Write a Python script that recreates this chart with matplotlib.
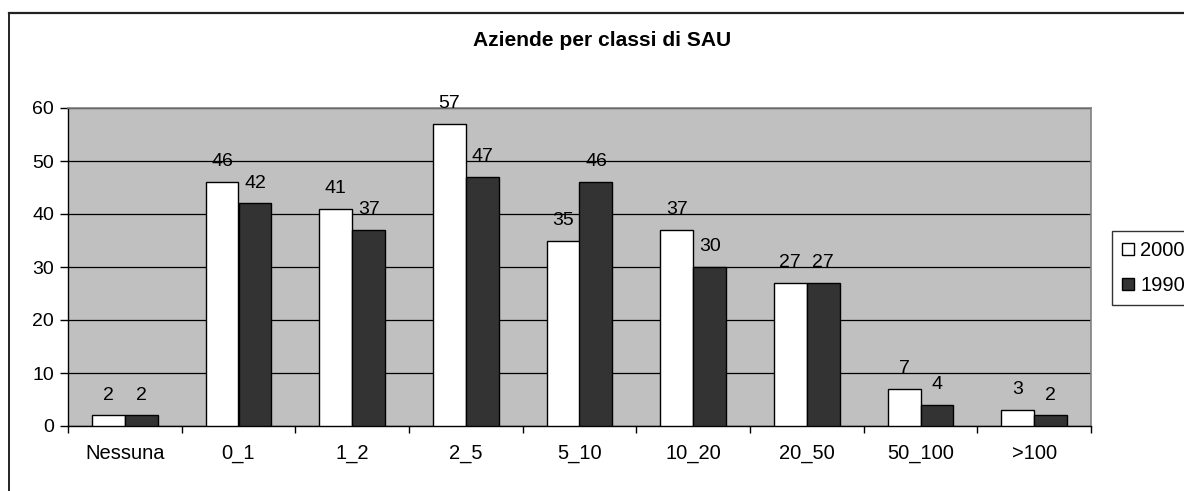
import numpy as np
import matplotlib
matplotlib.use("Agg")
import matplotlib.pyplot as plt
from matplotlib.patches import Rectangle
from matplotlib.lines import Line2D

plt.rcParams['font.family'] = ['Liberation Sans', 'DejaVu Sans']

# dati
classi = ['Nessuna', '0_1', '1_2', '2_5', '5_10', '10_20', '20_50', '50_100', '>100']
anno_2000 = [2, 46, 41, 57, 35, 37, 27, 7, 3]
anno_1990 = [2, 42, 37, 47, 46, 30, 27, 4, 2]
serie = ['2000', '1990']

W, H = 1184, 491
fig = plt.figure(figsize=(W / 100, H / 100), dpi=100)

# cornice esterna (solo lati sinistro e superiore visibili)
fig.add_artist(Line2D([8.5 / W, 8.5 / W], [0, 1 - 13 / H], color='black', lw=1.2))
fig.add_artist(Line2D([8.5 / W, 1], [1 - 13 / H, 1 - 13 / H], color='#222222', lw=1.6))

left, right, top, bottom = 68, 1091, 108, 426
ax = fig.add_axes([left / W, 1 - bottom / H, (right - left) / W, (bottom - top) / H])
ax.set_facecolor('#c0c0c0')

x = np.arange(len(classi))
bw = 0.29
b1 = ax.bar(x - bw / 2, anno_2000, bw, color='white', edgecolor='black', linewidth=1, zorder=3)
b2 = ax.bar(x + bw / 2, anno_1990, bw, color='#333333', edgecolor='black', linewidth=1, zorder=3)

for bars, vals in ((b1, anno_2000), (b2, anno_1990)):
    for r, v in zip(bars, vals):
        ax.annotate(str(v), (r.get_x() + r.get_width() / 2, v), xytext=(0, 8.5),
                    textcoords='offset points', ha='center', va='bottom',
                    fontsize=14, zorder=4)

ax.set_xlim(-0.5, len(classi) - 0.5)
ax.set_ylim(0, 60)
ax.set_yticks(range(0, 61, 10))
ax.yaxis.grid(True, color='black', lw=0.9, zorder=1)
ax.set_axisbelow(True)

ax.set_xticks(np.arange(-0.5, len(classi), 1))
ax.set_xticklabels([])
ax.set_xticks(x, minor=True)
ax.set_xticklabels(classi, minor=True)
ax.tick_params(axis='x', which='minor', length=0, pad=13, labelsize=14.5)
ax.tick_params(axis='x', which='major', length=5, color='black', width=1)
ax.tick_params(axis='y', length=6, width=1, labelsize=14, pad=4)

for s in ['top', 'right']:
    ax.spines[s].set_color('#808080')
    ax.spines[s].set_linewidth(1.2)
ax.spines['left'].set_linewidth(1)
ax.spines['bottom'].set_linewidth(1)

# titolo: centrato sull'area del grafico, largo circa 258 px
titolo = fig.text(602 / W, 1 - 41 / H, 'Aziende per classi di SAU',
                  ha='center', va='center', fontsize=14, fontweight='bold')
fig.canvas.draw()
larg = titolo.get_window_extent().width
titolo.set_fontsize(14 * 258 / larg)

# legenda
handles = [Rectangle((0, 0), 1, 1, facecolor='white', edgecolor='black'),
           Rectangle((0, 0), 1, 1, facecolor='#333333', edgecolor='black')]
leg = fig.legend(handles, serie, loc='upper left', bbox_to_anchor=(1112 / W, 1 - 231 / H),
                 frameon=True, fancybox=False, fontsize=14.5, handlelength=0.6,
                 handleheight=0.6, handletextpad=0.3, borderpad=0.5, labelspacing=0.8,
                 borderaxespad=0)
leg.get_frame().set_edgecolor('black')
leg.get_frame().set_linewidth(1)

fig.savefig('out.png', dpi=100)
